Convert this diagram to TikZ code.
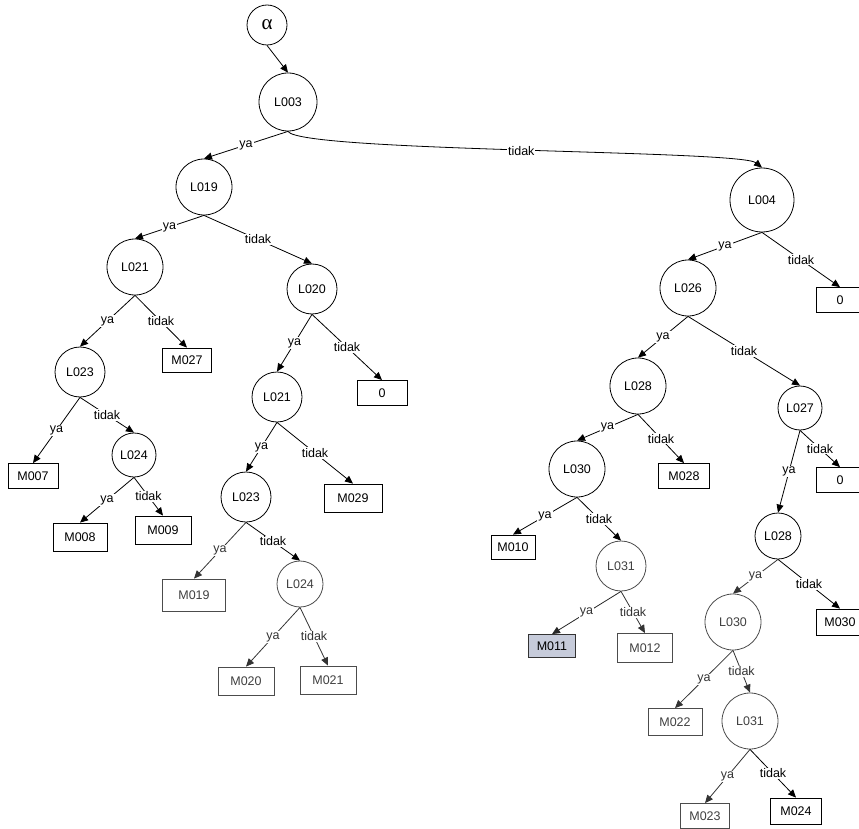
\documentclass[tikz,border=0pt]{standalone}
\usepackage{fontspec}
\setmainfont{Liberation Sans}
\newfontfamily\serifalpha{Liberation Serif}
\usetikzlibrary{arrows.meta}
\definecolor{selfill}{RGB}{198,203,218}
\tikzset{
  cnode/.style={circle,draw,line width=0.8pt,inner sep=0pt,font=\fontsize{12.5}{14}\selectfont},
  bnode/.style={rectangle,draw,line width=0.8pt,inner sep=0pt,font=\fontsize{12.5}{14}\selectfont},
  faded/.style={draw=black!70,text=black!75},
  arr/.style={line width=0.8pt,-{Triangle[length=8pt,width=7pt]}},
  lbl/.style={fill=white,inner sep=1pt,font=\fontsize{12.5}{14}\selectfont,midway}
}
\begin{document}
\begin{tikzpicture}[x=1pt,y=-1pt]
\useasboundingbox (0,0) rectangle (859,829);
% circles
\node[cnode,minimum size=40pt,font=\serifalpha\fontsize{21}{22}\selectfont] (alpha) at (267,25) {α};
\node[cnode,minimum size=58pt] (L003) at (288,102) {L003};
\node[cnode,minimum size=56pt] (L019) at (204,187) {L019};
\node[cnode,minimum size=64pt] (L004) at (762,200) {L004};
\node[cnode,minimum size=56pt] (L021a) at (135,267) {L021};
\node[cnode,minimum size=50pt] (L020) at (312,289) {L020};
\node[cnode,minimum size=56pt] (L026) at (688,288) {L026};
\node[cnode,minimum size=50pt] (L023a) at (80,372) {L023};
\node[cnode,minimum size=50pt] (L021b) at (277,397) {L021};
\node[cnode,minimum size=56pt] (L028a) at (638,386) {L028};
\node[cnode,minimum size=44pt] (L027) at (800,408) {L027};
\node[cnode,minimum size=44pt] (L024a) at (134,455) {L024};
\node[cnode,minimum size=50pt] (L023b) at (246,497) {L023};
\node[cnode,minimum size=56pt] (L030a) at (577,469) {L030};
\node[cnode,minimum size=46pt] (L028b) at (778,536) {L028};
\node[cnode,faded,minimum size=50pt] (L031a) at (621,566) {L031};
\node[cnode,faded,minimum size=46pt] (L024b) at (300,584) {L024};
\node[cnode,faded,minimum size=56pt] (L030b) at (733,622) {L030};
\node[cnode,faded,minimum size=56pt] (L031b) at (750,721) {L031};
% boxes
\node[bnode,minimum width=48pt,minimum height=25pt] (Z1) at (840,300) {0};
\node[bnode,minimum width=49pt,minimum height=24pt] (M027) at (187,360) {M027};
\node[bnode,minimum width=50pt,minimum height=25pt] (Z2) at (382,393) {0};
\node[bnode,minimum width=50pt,minimum height=25pt] (M007) at (33,476) {M007};
\node[bnode,minimum width=54pt,minimum height=28pt] (M008) at (80,537) {M008};
\node[bnode,minimum width=56pt,minimum height=28pt] (M009) at (163,530) {M009};
\node[bnode,minimum width=58pt,minimum height=28pt] (M029) at (353,498) {M029};
\node[bnode,minimum width=51pt,minimum height=25pt] (M028) at (684,476) {M028};
\node[bnode,minimum width=48pt,minimum height=25pt] (Z3) at (840,480) {0};
\node[bnode,minimum width=44pt,minimum height=24pt] (M010) at (513,547) {M010};
\node[bnode,minimum width=47pt,minimum height=23pt,fill=selfill,draw=black!80] (M011) at (552,646) {M011};
\node[bnode,faded,minimum width=55pt,minimum height=29pt] (M012) at (645,648) {M012};
\node[bnode,faded,minimum width=63pt,minimum height=32pt] (M019) at (194,595) {M019};
\node[bnode,faded,minimum width=56pt,minimum height=28pt] (M020) at (246,681) {M020};
\node[bnode,faded,minimum width=56pt,minimum height=28pt] (M021) at (328,680) {M021};
\node[bnode,minimum width=48pt,minimum height=26pt] (M030) at (840,622) {M030};
\node[bnode,faded,minimum width=54pt,minimum height=27pt] (M022) at (675,722) {M022};
\node[bnode,faded,minimum width=49pt,minimum height=25pt] (M023) at (705,816) {M023};
\node[bnode,minimum width=51pt,minimum height=26pt] (M024) at (796,811) {M024};
% curve control points
\coordinate (c1) at (300,152);
\coordinate (c2) at (740,150);
% edges
\draw[arr] (alpha.south) -- (L003.north);
\draw[arr] (L003.south) -- node[lbl]{ya} (L019.north);
\draw[arr] (L003.south) .. controls (c1) and (c2) .. node[lbl,pos=0.5]{tidak} (L004.north);
\draw[arr] (L019.south) -- node[lbl]{ya} (L021a.north);
\draw[arr] (L019.south) -- node[lbl]{tidak} (L020.north);
\draw[arr] (L021a.south) -- node[lbl]{ya} (L023a.north);
\draw[arr] (L021a.south) -- node[lbl]{tidak} (M027.north);
\draw[arr] (L023a.south) -- node[lbl]{ya} (M007.north);
\draw[arr] (L023a.south) -- node[lbl]{tidak} (L024a.north);
\draw[arr] (L024a.south) -- node[lbl]{ya} (M008.north);
\draw[arr] (L024a.south) -- node[lbl]{tidak} (M009.north);
\draw[arr] (L020.south) -- node[lbl]{ya} (L021b.north);
\draw[arr] (L020.south) -- node[lbl]{tidak} (Z2.north);
\draw[arr] (L021b.south) -- node[lbl]{ya} (L023b.north);
\draw[arr] (L021b.south) -- node[lbl]{tidak} (M029.north);
\draw[arr,black!80] (L023b.south) -- node[lbl,text=black!80]{ya} (M019.north);
\draw[arr] (L023b.south) -- node[lbl]{tidak} (L024b.north);
\draw[arr,black!80] (L024b.south) -- node[lbl,text=black!80]{ya} (M020.north);
\draw[arr,black!80] (L024b.south) -- node[lbl,text=black!80]{tidak} (M021.north);
\draw[arr] (L004.south) -- node[lbl]{ya} (L026.north);
\draw[arr] (L004.south) -- node[lbl]{tidak} (Z1.north);
\draw[arr] (L026.south) -- node[lbl]{ya} (L028a.north);
\draw[arr] (L026.south) -- node[lbl]{tidak} (L027.north);
\draw[arr] (L028a.south) -- node[lbl]{ya} (L030a.north);
\draw[arr] (L028a.south) -- node[lbl]{tidak} (M028.north);
\draw[arr] (L030a.south) -- node[lbl]{ya} (M010.north);
\draw[arr] (L030a.south) -- node[lbl]{tidak} (L031a.north);
\draw[arr,black!85] (L031a.south) -- node[lbl,text=black!80]{ya} (M011.north);
\draw[arr,black!80] (L031a.south) -- node[lbl,text=black!80]{tidak} (M012.north);
\draw[arr] (L027.south) -- node[lbl]{ya} (L028b.north);
\draw[arr] (L027.south) -- node[lbl]{tidak} (Z3.north);
\draw[arr,black!80] (L028b.south) -- node[lbl,text=black!80]{ya} (L030b.north);
\draw[arr] (L028b.south) -- node[lbl]{tidak} (M030.north);
\draw[arr,black!80] (L030b.south) -- node[lbl,text=black!80]{ya} (M022.north);
\draw[arr,black!80] (L030b.south) -- node[lbl,text=black!80]{tidak} (L031b.north);
\draw[arr,black!80] (L031b.south) -- node[lbl,text=black!80]{ya} (M023.north);
\draw[arr] (L031b.south) -- node[lbl]{tidak} (M024.north);
\end{tikzpicture}
\end{document}
